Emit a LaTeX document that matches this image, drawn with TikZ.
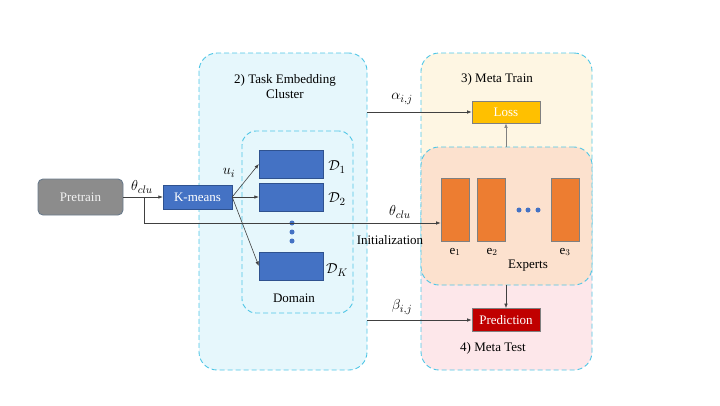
\documentclass[tikz,border=0pt]{standalone}
\usepackage{fontspec}
\setmainfont{Liberation Serif}
\usetikzlibrary{arrows.meta}
\definecolor{dashc}{HTML}{4FC6E6}
\definecolor{clufill}{HTML}{E6F7FC}
\definecolor{trainfill}{HTML}{FEF6E3}
\definecolor{testfill}{HTML}{FDE7EA}
\definecolor{expfill}{HTML}{FCE1CE}
\definecolor{blueb}{HTML}{4472C4}
\definecolor{blueline}{HTML}{2F528F}
\definecolor{orangeb}{HTML}{ED7D31}
\definecolor{gold}{HTML}{FFC000}
\definecolor{darkred}{HTML}{C00000}
\definecolor{grayb}{HTML}{8C8C8C}
\definecolor{grayline}{HTML}{6A7B8C}
\definecolor{linec}{HTML}{404040}
\tikzset{
  region/.style={draw=dashc, dash pattern=on 5pt off 3pt, line width=0.9pt, rounded corners=18pt, inner sep=0pt},
  bluebox/.style={draw=blueline, line width=0.4pt, fill=blueb, text=white, inner sep=0pt},
  expbox/.style={draw=gray, line width=0.7pt, fill=orangeb, inner sep=0pt, minimum width=28pt, minimum height=63pt},
  arr/.style={draw=linec, line width=0.6pt, -{Latex[length=4.5pt,width=3.5pt]}},
  lbl/.style={inner sep=0pt},
  mlbl/.style={inner sep=0pt, font=\fontsize{15}{17}\selectfont},
  dot/.style={circle, fill=blueb, inner sep=0pt, minimum size=5pt}
}
\begin{document}
\begin{tikzpicture}[x=1pt,y=-1pt,font=\fontsize{13}{15}\selectfont]
\useasboundingbox (0,0) rectangle (720,405);
% regions
\node[region, fill=clufill, minimum width=168pt, minimum height=317pt] (cluster) at (283,211.5) {};
\node[region, rounded corners=14pt, minimum width=111pt, minimum height=182pt] (domain) at (297.5,222) {};
\node[region, fill=trainfill, minimum width=171pt, minimum height=187pt] (train) at (506.5,146.5) {};
\node[region, fill=testfill, minimum width=171pt, minimum height=170pt] (test) at (506.5,285) {};
\node[region, fill=expfill, minimum width=171pt, minimum height=138pt] (experts) at (506.5,216) {};
% titles
\node[lbl, align=center] (t2) at (285,87) {2) Task Embedding\\Cluster};
\node[lbl] (t3) at (497,79) {3) Meta Train};
\node[lbl] (t4) at (493,348) {4) Meta Test};
\node[lbl] (tdom) at (294,298) {Domain};
\node[lbl] (texp) at (528,266) {Experts};
% boxes
\node[draw=grayline, line width=0.9pt, fill=grayb, text=white!90!gray, rounded corners=5pt, minimum width=85pt, minimum height=36pt, inner sep=0pt] (pre) at (80.5,197) {Pretrain};
\node[bluebox, minimum width=69pt, minimum height=24pt] (km) at (197.5,197) {K-means};
\node[bluebox, minimum width=64pt, minimum height=28pt] (d1) at (291,164) {};
\node[bluebox, minimum width=64pt, minimum height=28pt] (d2) at (291,197) {};
\node[bluebox, minimum width=64pt, minimum height=28pt] (dk) at (291,266) {};
\node[mlbl] (ld1) at (337,167) {$\mathcal{D}_1$};
\node[mlbl] (ld2) at (337,199) {$\mathcal{D}_2$};
\node[mlbl] (ldk) at (337,270) {$\mathcal{D}_K$};
\node[dot] (v1) at (292,223) {};
\node[dot] (v2) at (292,232) {};
\node[dot] (v3) at (292,241) {};
\node[draw=gray, line width=0.7pt, fill=gold, text=white, minimum width=68pt, minimum height=22pt, inner sep=0pt] (loss) at (506,112) {Loss};
\node[draw=gray, line width=0.7pt, fill=darkred, text=white, minimum width=68pt, minimum height=23pt, inner sep=0pt] (pred) at (506,320) {Prediction};
\node[expbox] (e1) at (455,209.5) {};
\node[expbox] (e2) at (491.5,209.5) {};
\node[expbox] (e3) at (565,209.5) {};
\node[dot] (h1) at (519,210) {};
\node[dot] (h2) at (528,210) {};
\node[dot] (h3) at (538,210) {};
\node[lbl] (le1) at (455,252) {e$_1$};
\node[lbl] (le2) at (492,252) {e$_2$};
\node[lbl] (le3) at (565,252) {e$_3$};
% labels
\node[mlbl] (th1) at (142,187) {$\theta_{clu}$};
\node[mlbl] (ui) at (229,173) {$u_i$};
\node[mlbl] (al) at (402,99) {$\alpha_{i,j}$};
\node[mlbl] (th2) at (400,212) {$\theta_{clu}$};
\node[lbl] (init) at (390,240) {Initialization};
\node[mlbl] (be) at (402,307) {$\beta_{i,j}$};
% connectors
\draw[arr] (pre.east) -- (km.west);
\coordinate (br) at (144,197);
\coordinate (bd) at (144,223);
\draw[arr] (br) -- (bd) -- (e1.west |- bd);
\draw[arr] (km.east) -- (d1.west);
\draw[arr] (km.east) -- (d2.west);
\draw[arr] (km.east) -- (dk.west);
\draw[arr] (cluster.east |- loss.west) -- (loss.west);
\draw[arr] (cluster.east |- pred.west) -- (pred.west);
\draw[arr, draw=gray] (loss.south |- experts.north) -- (loss.south);
\draw[arr] (pred.north |- experts.south) -- (pred.north);
\end{tikzpicture}
\end{document}
